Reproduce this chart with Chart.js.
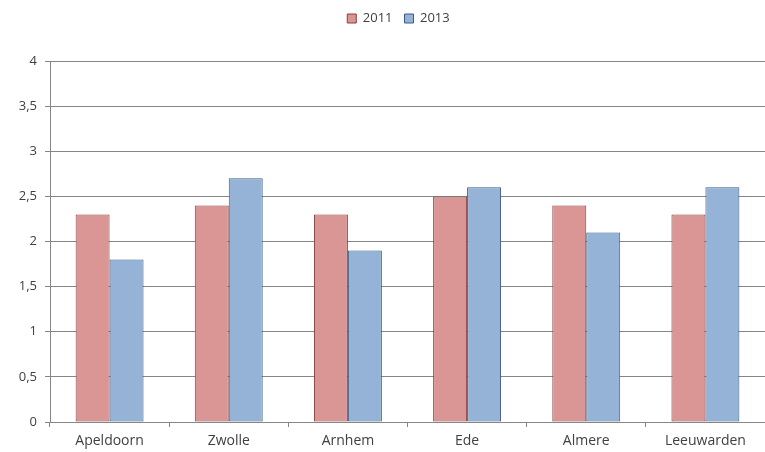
<!DOCTYPE html>
<html>
<head>
<meta charset="utf-8">
<script src="https://cdn.jsdelivr.net/npm/chart.js@4"></script>
<style>
  html, body { margin: 0; padding: 0; background: #fff; }
  #wrap { width: 765px; height: 452px; }
</style>
</head>
<body>
<div id="wrap"><canvas id="chart"></canvas></div>
<script>
const steden = ['Apeldoorn', 'Zwolle', 'Arnhem', 'Ede', 'Almere', 'Leeuwarden'];
const waarden2011 = [2.3, 2.4, 2.3, 2.5, 2.4, 2.3];
const waarden2013 = [1.8, 2.7, 1.9, 2.6, 2.1, 2.6];

const tekstKleur = '#404040';
const lijnKleur = '#868686';
const lettertype = { family: '"Open Sans", "DejaVu Sans", sans-serif', size: 14 };

// extra ruimte onder de legenda en legenda iets naar rechts
const legendaRuimte = {
    id: 'legendaRuimte',
    beforeLayout(chart) {
        const legend = chart.legend;
        if (!legend || legend._aangepast) return;
        const fit = legend.fit;
        legend.fit = function () {
            fit.call(this);
            this.height += 26;
        };
        legend._aangepast = true;
    },
    afterLayout(chart) {
        if (chart.legend) {
            chart.legend.left += 16;
            chart.legend.right += 16;
        }
    }
};

const data = {
    labels: steden,
    datasets: [{
        label: '2011',
        data: waarden2011,
        backgroundColor: 'rgb(217, 150, 148)',
        borderColor: 'rgb(140, 62, 60)',
        borderWidth: 1,
        borderSkipped: false
    }, {
        label: '2013',
        data: waarden2013,
        backgroundColor: 'rgb(149, 179, 215)',
        borderColor: 'rgb(62, 92, 132)',
        borderWidth: 1,
        borderSkipped: false
    }]
};

const options = {
    responsive: true,
    maintainAspectRatio: false,
    animation: false,
    layout: { padding: { left: 0, right: 0, top: 0, bottom: 3 } },
    datasets: {
        bar: { barPercentage: 1, categoryPercentage: 0.57 }
    },
    scales: {
        y: {
            min: 0,
            max: 4,
            afterFit(scale) { scale.width = 50; },
            ticks: {
                stepSize: 0.5,
                color: tekstKleur,
                font: { ...lettertype, size: 13 },
                padding: 8,
                callback: (v) => String(v).replace('.', ',')
            },
            grid: { color: lijnKleur, tickLength: 5, lineWidth: 1 },
            border: { color: lijnKleur }
        },
        x: {
            afterFit(scale) { scale.height = 27; },
            ticks: { color: tekstKleur, font: lettertype, padding: 6 },
            grid: { offset: true, drawOnChartArea: false, color: lijnKleur, tickLength: 5 },
            border: { color: lijnKleur }
        }
    },
    plugins: {
        legend: {
            display: true,
            position: 'top',
            labels: {
                color: tekstKleur,
                font: { ...lettertype, size: 13 },
                boxWidth: 9,
                boxHeight: 9,
                padding: 12
            }
        },
        tooltip: { enabled: false }
    }
};

new Chart(document.getElementById('chart'), {
    type: 'bar',
    data: data,
    options: options,
    plugins: [legendaRuimte]
});
</script>
</body>
</html>
